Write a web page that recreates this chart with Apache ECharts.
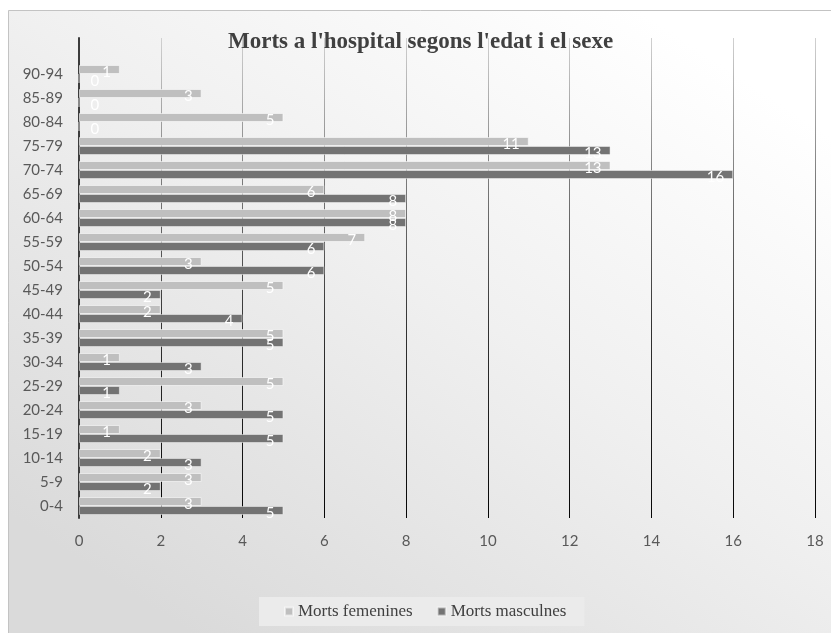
<!DOCTYPE html>
<html>
<head>
<meta charset="utf-8">
<script src="https://cdn.jsdelivr.net/npm/echarts@6/dist/echarts.min.js"></script>
<style>
html,body{margin:0;padding:0;background:#fff;}
#c{width:831px;height:633px;}
</style>
</head>
<body>
<div id="c"></div>
<script>
// Age groups, bottom to top
var categories = ['0-4','5-9','10-14','15-19','20-24','25-29','30-34','35-39','40-44','45-49','50-54','55-59','60-64','65-69','70-74','75-79','80-84','85-89','90-94'];
var femaleValues = [3,3,2,1,3,5,1,5,2,5,3,7,8,6,13,11,5,3,1];
var maleValues   = [5,2,3,5,5,1,3,5,4,2,6,6,8,8,16,13,0,0,0];
var xTicks = [0,2,4,6,8,10,12,14,16,18];
var seriesNames = ['Morts femenines','Morts masculnes'];
var titleText = "Morts a l'hospital segons l'edat i el sexe";

var chart = echarts.init(document.getElementById('c'), null, {renderer:'canvas'});

// Excel leaves one empty slot above the last category
var axisCats = categories.concat(['']);

function withZeroLabels(vals){
  return vals.map(function(v){
    if (v === 0) {
      return {value: v, label: {position: 'insideLeft', distance: 12}};
    }
    return v;
  });
}

var labelStyle = {
  show: true,
  position: 'insideRight',
  distance: 9,
  offset: [0, 3],
  color: '#ffffff',
  fontFamily: 'Lato',
  fontSize: 15
};

var option = {
  animation: false,
  backgroundColor: 'transparent',
  graphic: [{
    type: 'rect',
    z: -10,
    silent: true,
    shape: {x: 8.5, y: 10.5, width: 840, height: 640},
    style: {
      fill: new echarts.graphic.LinearGradient(0.75, 0, 0.25, 1, [
        {offset: 0, color: '#ffffff'},
        {offset: 0.45, color: '#f0f0f0'},
        {offset: 1, color: '#dadada'}
      ]),
      stroke: '#c3c3c3',
      lineWidth: 1
    }
  }],
  title: {
    text: titleText,
    left: 228,
    top: 26,
    padding: [5, 0, 5, 0],
    textStyle: {
      fontFamily: 'Liberation Serif',
      fontWeight: 'bold',
      fontSize: 23,
      color: '#404040'
    }
  },
  legend: {
    data: seriesNames,
    left: 259,
    top: 597,
    orient: 'horizontal',
    padding: [6, 18, 6, 25],
    backgroundColor: '#ebebeb',
    icon: 'rect',
    itemWidth: 8,
    itemHeight: 8,
    itemGap: 24,
    textStyle: {
      fontFamily: 'Liberation Serif',
      fontSize: 17,
      color: '#404040'
    }
  },
  grid: {
    left: 79,
    right: 16,
    top: 38,
    bottom: 115,
    containLabel: false
  },
  xAxis: {
    type: 'value',
    min: xTicks[0],
    max: xTicks[xTicks.length - 1],
    interval: xTicks[1] - xTicks[0],
    axisLine: {show: false},
    axisTick: {show: false},
    axisLabel: {
      margin: 16,
      fontFamily: 'Lato',
      fontSize: 15,
      color: '#595959'
    },
    splitLine: {
      show: true,
      lineStyle: {
        width: 1,
        color: new echarts.graphic.LinearGradient(0, 0, 0, 1, [
          {offset: 0, color: '#d2d2d2'},
          {offset: 0.3, color: '#7a7a7a'},
          {offset: 0.6, color: '#333333'},
          {offset: 1, color: '#050505'}
        ])
      }
    }
  },
  yAxis: {
    type: 'category',
    data: axisCats,
    axisLine: {show: true, lineStyle: {color: '#3c3c3c', width: 2}},
    axisTick: {show: false},
    axisLabel: {
      margin: 16,
      fontFamily: 'Lato',
      fontSize: 15,
      color: '#595959'
    },
    splitLine: {show: false}
  },
  series: [
    {
      name: seriesNames[0],
      type: 'bar',
      data: withZeroLabels(femaleValues),
      barWidth: 9,
      barGap: '0%',
      itemStyle: {color: '#bfbfbf', borderColor: 'rgba(255,255,255,0.55)', borderWidth: 1},
      label: labelStyle
    },
    {
      name: seriesNames[1],
      type: 'bar',
      data: withZeroLabels(maleValues),
      barWidth: 9,
      barGap: '0%',
      itemStyle: {color: '#737373', borderColor: 'rgba(255,255,255,0.45)', borderWidth: 1},
      label: labelStyle
    }
  ]
};
chart.setOption(option);
</script>
</body>
</html>
